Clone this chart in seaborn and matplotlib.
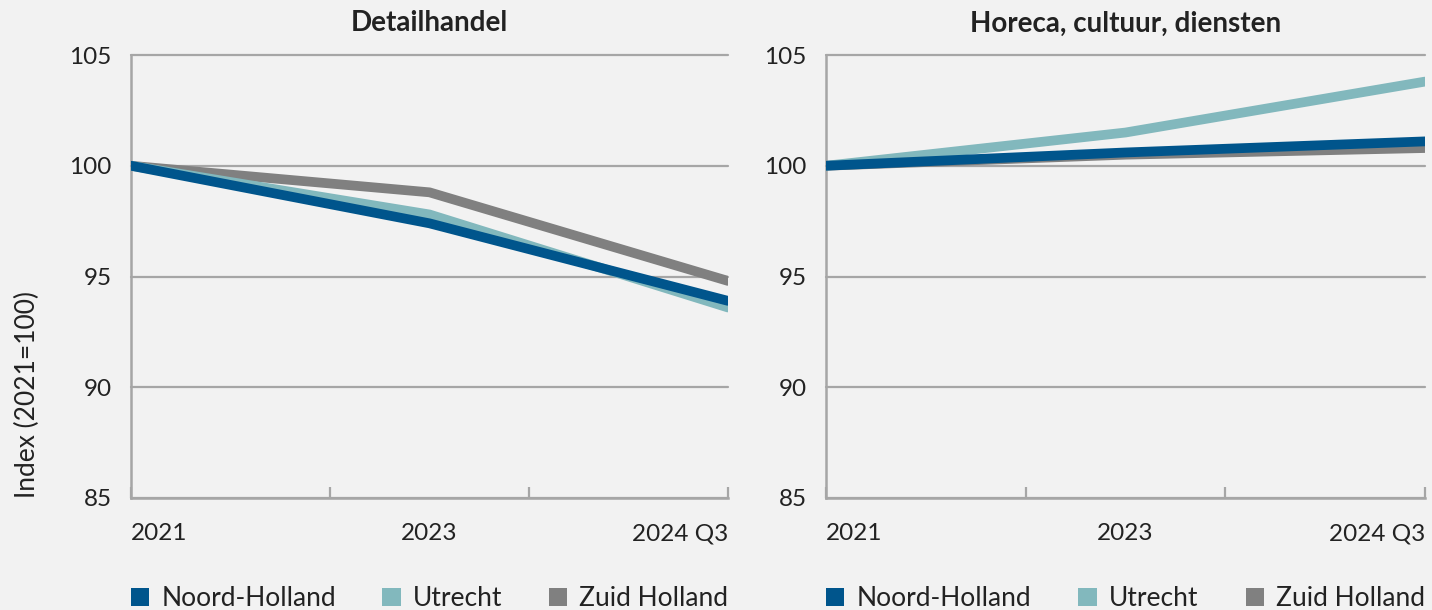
import pandas as pd
import seaborn as sns
import matplotlib.pyplot as plt
from matplotlib.patches import Patch

# Data (index 2021 = 100)
periodes = ["2021", "2023", "2024 Q3"]
regios = ["Noord-Holland", "Utrecht", "Zuid Holland"]
kleuren = ["#00558c", "#82b8bd", "#808080"]

detail_noord = [100, 97.4, 93.9]
detail_utrecht = [100, 97.8, 93.6]
detail_zuid = [100, 98.8, 94.8]

horeca_noord = [100, 100.6, 101.1]
horeca_utrecht = [100, 101.5, 103.8]
horeca_zuid = [100, 100.5, 100.8]


def maak_df(noord, utrecht, zuid):
    rows = []
    for regio, waarden in zip(regios, [noord, utrecht, zuid]):
        for i, (p, w) in enumerate(zip(periodes, waarden)):
            rows.append({"periode": p, "pos": i, "regio": regio, "index": w})
    return pd.DataFrame(rows)


df_detail = maak_df(detail_noord, detail_utrecht, detail_zuid)
df_horeca = maak_df(horeca_noord, horeca_utrecht, horeca_zuid)

bg = "#f2f2f2"
grid = "#a6a6a6"
tekst = "#222222"

sns.set_style("ticks", {"axes.facecolor": bg, "figure.facecolor": bg})
plt.rcParams["font.family"] = ["Lato", "DejaVu Sans"]

fig = plt.figure(figsize=(14.32, 6.10), dpi=100)
ax1 = fig.add_axes([131 / 1432, 1 - 498 / 610, 597 / 1432, 443 / 610])
ax2 = fig.add_axes([826 / 1432, 1 - 498 / 610, 599 / 1432, 443 / 610])

palette = dict(zip(regios, kleuren))
volgorde = ["Zuid Holland", "Utrecht", "Noord-Holland"]  # blauw bovenop

for ax, df, titel in [(ax1, df_detail, "Detailhandel"),
                      (ax2, df_horeca, "Horeca, cultuur, diensten")]:
    for regio in volgorde:
        sns.lineplot(data=df[df["regio"] == regio], x="pos", y="index",
                     color=palette[regio], lw=7, ax=ax, legend=False,
                     sort=False, zorder=3)
    ax.set_xlim(0, 2)
    ax.set_ylim(85, 105)
    ax.set_yticks([85, 90, 95, 100, 105])
    ax.yaxis.grid(True, color=grid, lw=1.6)
    for gl in ax.get_ygridlines():
        gl.set_clip_on(False)
    ax.set_axisbelow(True)

    for s in ["top", "right"]:
        ax.spines[s].set_visible(False)
    for s in ["left", "bottom"]:
        ax.spines[s].set_color(grid)
        ax.spines[s].set_linewidth(1.8)

    # tick marks between categories, labels on the categories
    ax.xaxis.remove_overlapping_locs = False
    ax.set_xticks([0, 2 / 3, 4 / 3, 2])
    ax.set_xticklabels([])
    ax.tick_params(axis="x", which="major", direction="in", length=8,
                   width=1.6, color=grid)
    ax.set_xticks([0, 1, 2], minor=True)
    lbls = ax.set_xticklabels(periodes, minor=True)
    ax.tick_params(axis="x", which="minor", length=0, pad=18,
                   labelsize=17.5, labelcolor=tekst)
    for lbl, ha in zip(lbls, ["left", "center", "right"]):
        lbl.set_ha(ha)

    ax.tick_params(axis="y", length=0, pad=14, labelsize=17.5,
                   labelcolor=tekst)
    ax.set_xlabel("")
    ax.set_ylabel("")
    ax.set_title(titel, fontsize=20, fontweight="bold", color=tekst, pad=17)

    handles = [Patch(facecolor=c, edgecolor="none") for c in kleuren]
    ax.legend(handles, regios, loc="center", bbox_to_anchor=(0, -0.227, 1, 0),
              mode="expand", ncol=3, frameon=False, fontsize=19,
              handlelength=0.7, handleheight=0.7, handletextpad=0.45,
              borderaxespad=0, borderpad=0, labelcolor=tekst)

ax1.set_ylabel("Index (2021=100)", fontsize=19, color=tekst)
ax1.yaxis.set_label_coords(-0.152, 0.233)

fig.savefig("out.png", dpi=100, facecolor=bg)
